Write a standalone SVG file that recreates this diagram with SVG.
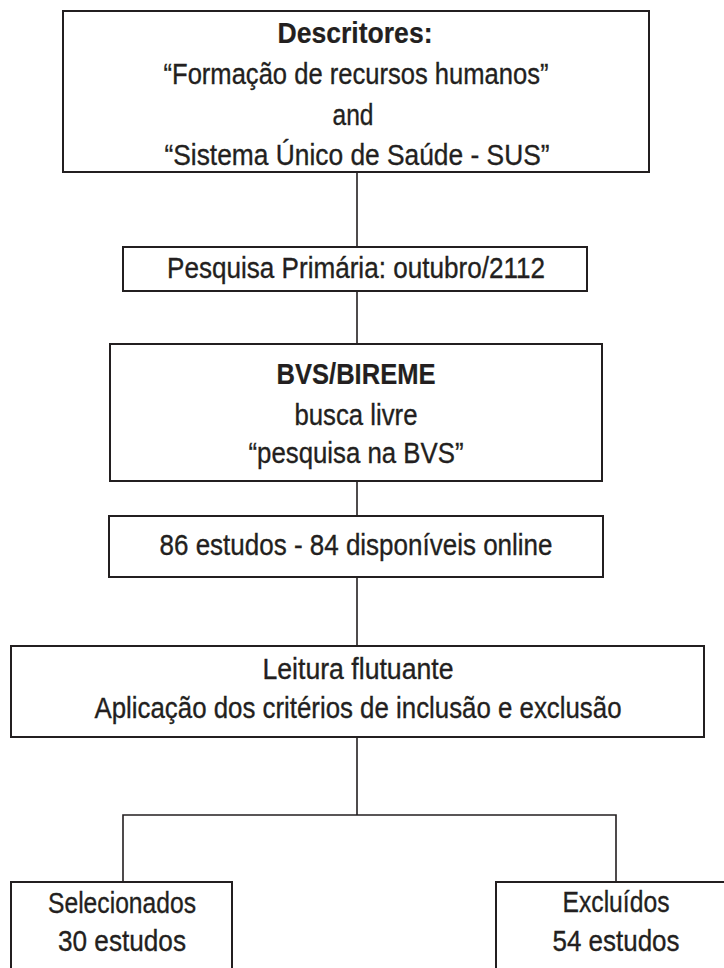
<svg xmlns="http://www.w3.org/2000/svg" width="724" height="968" viewBox="0 0 724 968">
<style>
.box{fill:#fff;stroke:#231f20;stroke-width:2}
.con{fill:none;stroke:#231f20;stroke-width:1.6}
text{font-family:"Liberation Sans",Arial,sans-serif;font-size:30px;fill:#231f20;stroke:#231f20;stroke-width:0.35;text-anchor:middle}
.b{font-weight:bold;stroke-width:0.2}
</style>
<rect width="724" height="968" fill="#fff"/>
<g id="connectors">
<line class="con" x1="357" y1="172" x2="357" y2="247"/>
<line class="con" x1="357" y1="291" x2="357" y2="344"/>
<line class="con" x1="357" y1="481" x2="357" y2="516"/>
<line class="con" x1="357" y1="577" x2="357" y2="646"/>
<line class="con" x1="357" y1="737" x2="357" y2="815"/>
<polyline class="con" points="123,882 123,815 616,815 616,882"/>
</g>
<g id="descritores">
<rect class="box" x="63" y="11" width="586" height="161"/>
<text class="b" x="355" y="43" textLength="155" lengthAdjust="spacingAndGlyphs">Descritores:</text>
<text x="356" y="84" textLength="385" lengthAdjust="spacingAndGlyphs">“Formação de recursos humanos”</text>
<text x="353" y="125" textLength="41" lengthAdjust="spacingAndGlyphs">and</text>
<text x="357" y="165" textLength="385" lengthAdjust="spacingAndGlyphs">“Sistema Único de Saúde - SUS”</text>
</g>
<g id="pesquisa">
<rect class="box" x="123" y="247" width="464" height="44"/>
<text x="356" y="278" textLength="378" lengthAdjust="spacingAndGlyphs">Pesquisa Primária: outubro/2112</text>
</g>
<g id="bvs">
<rect class="box" x="110" y="344" width="492" height="137"/>
<text class="b" x="356" y="384" textLength="159" lengthAdjust="spacingAndGlyphs">BVS/BIREME</text>
<text x="356" y="425" textLength="123" lengthAdjust="spacingAndGlyphs">busca livre</text>
<text x="356" y="463" textLength="215" lengthAdjust="spacingAndGlyphs">“pesquisa na BVS”</text>
</g>
<g id="estudos">
<rect class="box" x="109" y="516" width="494" height="61"/>
<text x="356" y="555" textLength="393" lengthAdjust="spacingAndGlyphs">86 estudos - 84 disponíveis online</text>
</g>
<g id="leitura">
<rect class="box" x="11" y="646" width="693" height="91"/>
<text x="358" y="679" textLength="191" lengthAdjust="spacingAndGlyphs">Leitura flutuante</text>
<text x="358" y="718" textLength="527" lengthAdjust="spacingAndGlyphs">Aplicação dos critérios de inclusão e exclusão</text>
</g>
<g id="selecionados">
<rect class="box" x="11" y="882" width="221" height="100"/>
<text x="122" y="913" textLength="148" lengthAdjust="spacingAndGlyphs">Selecionados</text>
<text x="122" y="951" textLength="128" lengthAdjust="spacingAndGlyphs">30 estudos</text>
</g>
<g id="excluidos">
<rect class="box" x="496" y="882" width="240" height="100"/>
<text x="616" y="912" textLength="107" lengthAdjust="spacingAndGlyphs">Excluídos</text>
<text x="616" y="951" textLength="127" lengthAdjust="spacingAndGlyphs">54 estudos</text>
</g>
</svg>
